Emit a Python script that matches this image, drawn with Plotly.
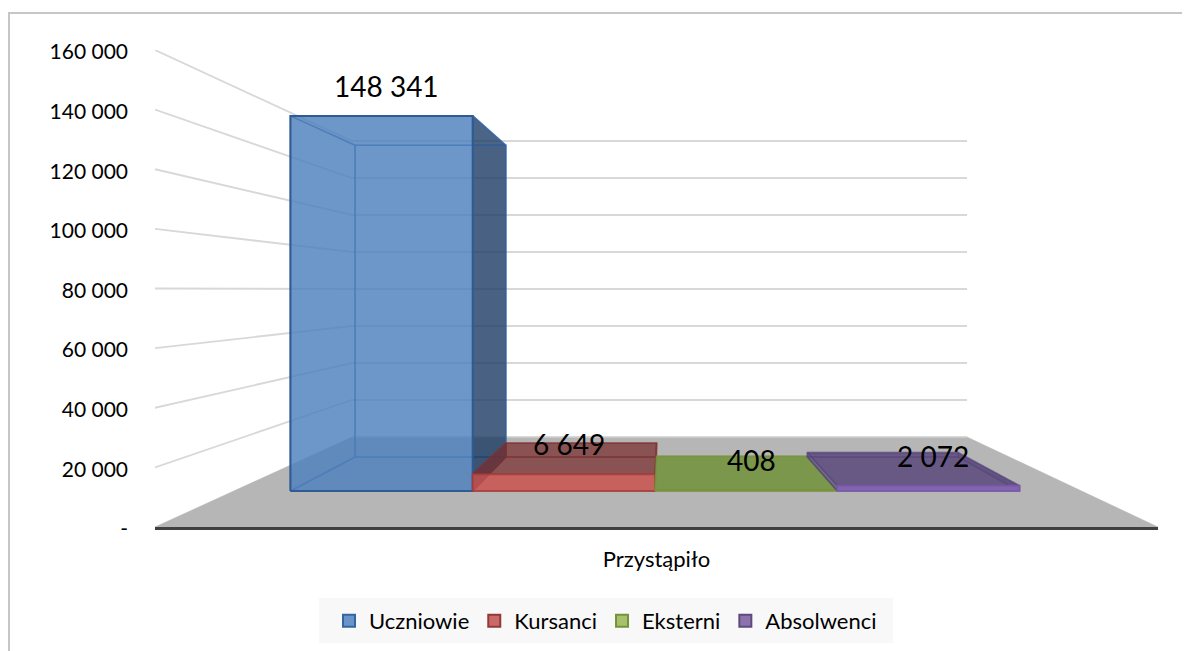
import plotly.graph_objects as go

# ---------- data ----------
categories = ["Przystąpiło"]
series_names = ["Uczniowie", "Kursanci", "Eksterni", "Absolwenci"]
series_values = [148341, 6649, 408, 2072]
value_labels = ["148 341", "6 649", "408", "2 072"]
tick_values = [0, 20000, 40000, 60000, 80000, 100000, 120000, 140000, 160000]
tick_labels = ["-", "20 000", "40 000", "60 000", "80 000", "100 000", "120 000", "140 000", "160 000"]

# ---------- styles per series ----------
legend_fill = ["#6a94c9", "#c96a68", "#a6c06c", "#8d73ad"]
legend_line = ["#33669f", "#933a38", "#76923c", "#5f4a80"]
edge_front = ["rgba(44,88,146,0.95)", "rgba(165,60,58,0.75)", "rgba(118,146,60,0.7)", "rgba(120,90,165,0.85)"]
edge_back = ["rgba(50,100,165,0.65)", "rgba(130,50,50,0.55)", "rgba(118,146,60,0.4)", "rgba(85,65,125,0.45)"]
face_front = ["rgba(79,129,189,0.82)", "rgba(205,80,76,0.80)", "rgba(130,160,75,0.9)", "rgba(130,98,180,0.95)"]
face_top = ["rgba(79,129,189,0.06)", "rgba(120,45,45,0.68)", "rgba(120,150,72,0.95)", "rgba(88,70,122,0.72)"]
face_side = ["rgba(30,60,100,0.80)", "rgba(125,35,35,0.40)", "rgba(120,150,72,0.3)", "rgba(88,70,122,0.6)"]
face_inner = ["rgba(79,129,189,0.05)", "rgba(125,35,35,0.12)", "rgba(120,150,72,0.3)", "rgba(88,70,122,0.4)"]

# ---------- projection of the oblique 3D box ----------
BACK_LEFT = 197 / 1003
BACK_RIGHT = 1 - 191 / 1003
BACK_RISE = 160000 * 90 / 477
BACK_SCALE = 296 / 477
DEPTH_FRONT = 0.4
DEPTH_BACK = 0.778
BAR_START = 0.0668
BAR_WIDTH = 0.2150


def proj(u, depth, value):
    left = BACK_LEFT * depth
    right = 1 + (BACK_RIGHT - 1) * depth
    x = left + u * (right - left)
    y = BACK_RISE * depth + value * (1 + (BACK_SCALE - 1) * depth)
    return x, y


def poly(points):
    pts = [proj(*p) for p in points]
    xs = [p[0] for p in pts] + [pts[0][0]]
    ys = [p[1] for p in pts] + [pts[0][1]]
    return xs, ys


fig = go.Figure()


def add_face(points, fill, line, width=1.6):
    xs, ys = poly(points)
    fig.add_trace(go.Scatter(x=xs, y=ys, mode="lines", fill="toself", fillcolor=fill,
                             line=dict(color=line, width=width), showlegend=False, hoverinfo="skip"))


# floor
add_face([(0, 0, 0), (1, 0, 0), (1, 1, 0), (0, 1, 0)], "#b6b6b6", "#b6b6b6", 0.5)

# gridlines on left and back wall
for v in tick_values[1:]:
    xs, ys = zip(*[proj(0, 0, v), proj(0, 1, v), proj(1, 1, v)])
    fig.add_trace(go.Scatter(x=xs, y=ys, mode="lines", line=dict(color="#d8d8d8", width=1.8),
                             showlegend=False, hoverinfo="skip"))
xs, ys = zip(*[proj(0, 1, 0), proj(1, 1, 0)])
fig.add_trace(go.Scatter(x=xs, y=ys, mode="lines", line=dict(color="#d0d0d0", width=1.5),
                         showlegend=False, hoverinfo="skip"))

# bars
for i, v in enumerate(series_values):
    u0, u1 = BAR_START + i * BAR_WIDTH, BAR_START + (i + 1) * BAR_WIDTH
    f, b = DEPTH_FRONT, DEPTH_BACK
    # back
    add_face([(u0, b, 0), (u1, b, 0), (u1, b, v), (u0, b, v)], face_inner[i], edge_back[i])
    # bottom
    add_face([(u0, f, 0), (u1, f, 0), (u1, b, 0), (u0, b, 0)], face_inner[i], edge_back[i])
    # left
    add_face([(u0, f, 0), (u0, b, 0), (u0, b, v), (u0, f, v)], face_inner[i], edge_back[i])
    # right
    add_face([(u1, f, 0), (u1, b, 0), (u1, b, v), (u1, f, v)], face_side[i], edge_back[i])
    # top
    add_face([(u0, f, v), (u1, f, v), (u1, b, v), (u0, b, v)], face_top[i], edge_back[i])
    # front
    add_face([(u0, f, 0), (u1, f, 0), (u1, f, v), (u0, f, v)], face_front[i], edge_front[i], 2)
    # data label
    ax, ay = proj((u0 + u1) / 2, f, v)
    fig.add_annotation(x=ax, y=ay, text=value_labels[i], showarrow=False, xanchor="center", yanchor="middle",
                       xshift=5, yshift=30, font=dict(family="Lato", size=28, color="#000000"))

# legend entries
for i, name in enumerate(series_names):
    fig.add_trace(go.Scatter(x=[None], y=[None], mode="markers", name=name,
                             marker=dict(symbol="square", size=13, color=legend_fill[i],
                                         line=dict(color=legend_line[i], width=2))))

W, H = 1190, 651
# reference-picture positions of the plot box; the page adds an 8 px body margin
L_PX, R_PX, T_PX, B_PX = 155, 1158, 50, 527
PAGE = 8


def px_x(p):
    return (p - L_PX) / (R_PX - L_PX)


def px_y(p):
    return (B_PX - p) / (B_PX - T_PX)


fig.update_layout(
    width=W, height=H,
    autosize=False,
    margin=dict(l=L_PX - PAGE, r=W - R_PX + PAGE, t=T_PX - PAGE, b=H - B_PX + PAGE, pad=0),
    paper_bgcolor="#ffffff", plot_bgcolor="rgba(0,0,0,0)",
    font=dict(family="Lato", size=21, color="#000000"),
    xaxis=dict(range=[0, 1], tickvals=[0.5], ticktext=categories, showgrid=False, zeroline=False,
               showline=True, linecolor="#404040", linewidth=3, ticks="", ticklabelstandoff=11,
               tickfont=dict(family="Lato", size=22, color="#000000")),
    yaxis=dict(range=[0, 160000], tickvals=tick_values, ticktext=tick_labels, showgrid=False, zeroline=False,
               showline=False, ticks="", ticklabelstandoff=26, ticklabelshift=2,
               tickfont=dict(family="Lato", size=21, color="#000000")),
    legend=dict(orientation="h", x=px_x(329), y=px_y(600), xanchor="left", yanchor="top",
                bgcolor="rgba(0,0,0,0)", font=dict(family="Lato", size=22, color="#000000"),
                itemsizing="constant"),
    shapes=[
        dict(type="rect", xref="paper", yref="paper", x0=px_x(319), x1=px_x(893), y0=px_y(598), y1=px_y(643),
             fillcolor="#f8f8f8", line=dict(width=0), layer="below"),
        dict(type="line", xref="paper", yref="paper", x0=px_x(9), x1=px_x(9), y0=px_y(13), y1=px_y(700),
             line=dict(color="#c6c6c6", width=2), layer="below"),
        dict(type="line", xref="paper", yref="paper", x0=px_x(8), x1=px_x(1300), y0=px_y(13), y1=px_y(13),
             line=dict(color="#c6c6c6", width=2), layer="below"),
    ],
)

fig.write_html("out.html")
